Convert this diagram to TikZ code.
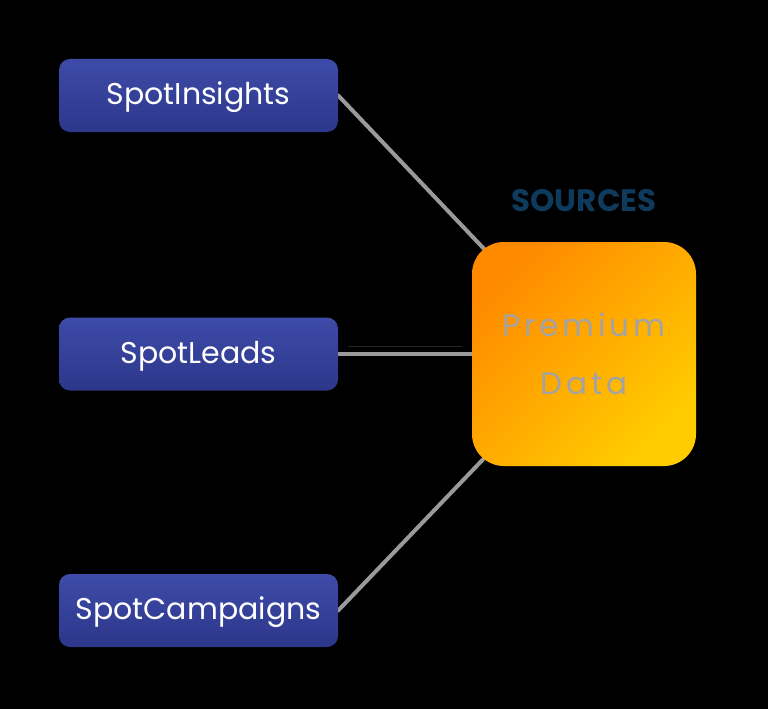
\documentclass[tikz,border=0pt]{standalone}
\usepackage{fontspec}
\setmainfont{Poppins}
\newfontfamily\spacedfont[LetterSpace=12]{Poppins}
\usetikzlibrary{positioning,backgrounds}

\definecolor{spotblue}{HTML}{3E4BA8}
\definecolor{spotbluedark}{HTML}{2C378A}
\definecolor{linkgray}{HTML}{9A9A9A}
\definecolor{premorange}{HTML}{FF8A00}
\definecolor{premyellow}{HTML}{FFCC00}
\definecolor{premtext}{HTML}{A3A3A3}
\definecolor{srcblue}{HTML}{0E3A5C}

\tikzset{
	product/.style={rounded corners=11pt, top color=spotblue, bottom color=spotbluedark,
		minimum width=279pt, minimum height=73pt, inner sep=0pt,
		text height=25pt, text depth=7pt,
		text=white, font=\fontsize{30}{34}\selectfont},
	premium/.style={rounded corners=32pt, shading=axis, left color=premorange, right color=premyellow,
		shading angle=45, minimum width=224pt, minimum height=224pt, inner sep=0pt,
		text=premtext, align=center, font=\spacedfont\fontsize{31}{58}\selectfont},
	link/.style={draw=linkgray, line width=4pt, line cap=round}
}

\begin{document}
\begin{tikzpicture}[x=1pt,y=-1pt]
	\useasboundingbox (0,0) rectangle (768,709);
	% products on the left
	\node[product] (insights) at (198.5,95.5) {SpotInsights};
	\node[product] (leads) at (198.5,354) {SpotLeads};
	\node[product] (campaigns) at (198.5,610.5) {SpotCampaigns};
	% data source
	\node[premium] (prem) at (584,354) {Premium\\Data};
	\node[text=srcblue, font=\bfseries\fontsize{31}{32}\selectfont, above=27pt of prem] (sources) {SOURCES};
	% links
	\begin{scope}[on background layer]
		\fill[black] (0,0) rectangle (768,709);
		\draw[link] (insights.east) -- (prem.center);
		\draw[link] (leads.east) -- (prem.center);
		\draw[link] (campaigns.east) -- (prem.center);
		\draw[draw=black!85!white, line width=1pt] ([xshift=10pt,yshift=8pt]leads.east) -- ([xshift=-10pt,yshift=8pt]prem.west);
	\end{scope}
\end{tikzpicture}
\end{document}
